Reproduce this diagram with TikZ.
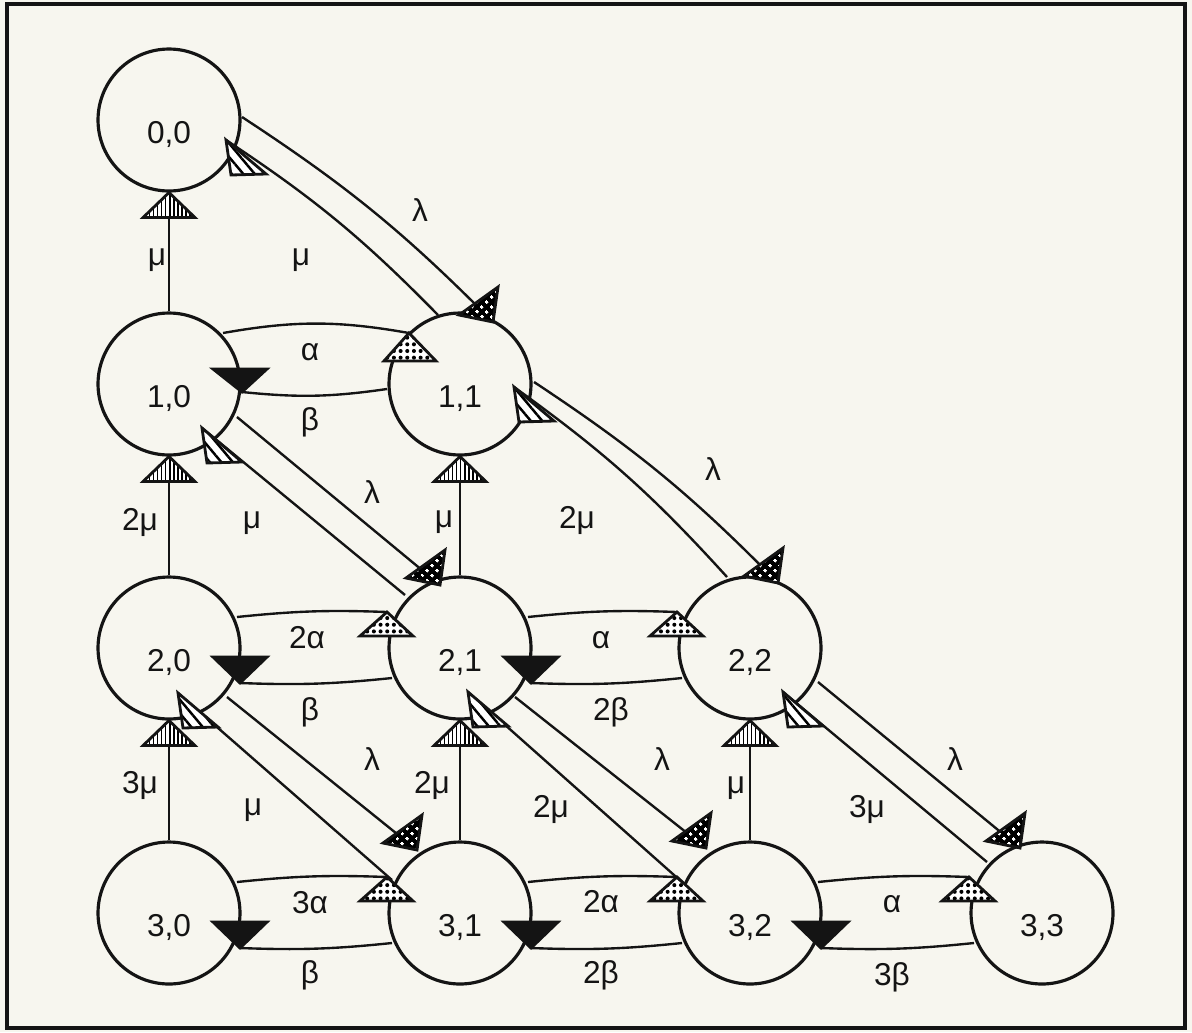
\documentclass[tikz,border=0pt]{standalone}
\usepackage{fontspec}
\setmainfont{Liberation Sans}
\usetikzlibrary{calc, patterns.meta}
\definecolor{paper}{HTML}{F7F6EF}
\definecolor{ink}{HTML}{141414}
\tikzset{
  every picture/.style={line width=1.3pt, color=ink},
  state/.style={circle, draw=ink, line width=1.8pt, minimum size=2.84cm, inner sep=0pt,
                font=\fontsize{18}{20}\selectfont, text height=0.94cm, text depth=0pt},
  rate/.style={font=\fontsize{18}{20}\selectfont, inner sep=0pt, anchor=base},
  link/.style={draw=ink, line width=1.35pt},
  head/.style={draw=ink, line width=1.6pt, preaction={fill=white}},
  headup/.style={head, pattern={Lines[angle=90, distance=2.3pt, line width=0.9pt]}},
  headback/.style={head, pattern={Lines[angle=-50, distance=5pt, line width=1.4pt]}},
  headfwd/.style={head, pattern={Hatch[angle=45, distance=4pt, line width=2.2pt]}},
  headvac/.style={head, pattern={Dots[distance=3.8pt, radius=1.15pt]}},
  headrep/.style={head, fill=ink},
}

\begin{document}
\begin{tikzpicture}[x=0.02cm, y=-0.02cm]
  \fill[paper] (0,0) rectangle (1192,1032);
  \useasboundingbox (0,0) rectangle (1192,1032);
  \draw[line width=1.8pt] (7,4) rectangle (1185,1028);
  % states i,j on a triangular grid
  \foreach \i/\y in {0/120, 1/384, 2/648, 3/913}
    \foreach \j/\x in {0/169, 1/460, 2/750, 3/1042} {
      \ifnum\j>\i\relax\else
        \node[state] (s\i\j) at (\x,\y) {\i,\j};
      \fi
    }
  % service straight up the columns
  \foreach \s/\t in {10/00, 20/10, 30/20, 21/11, 31/21, 32/22} {
    \draw[link] (s\s.north) -- (s\t.south);
    \draw[headup] (s\t.south) -- ++(-26,25) -- ++(52,0) -- cycle;
  }
  % alpha over the top, beta underneath
  \draw[link] ($(s10)+(54,-51)$) to[bend left=10] ($(s11)+(-51,-51)$);
  \draw[link] ($(s11)+(-73,5)$) to[bend left=7] ($(s10)+(73,8)$);
  \draw[headvac] ($(s11)+(-51,-51)$) -- ++(-25,28) -- ++(52,0) -- cycle;
  \draw[headrep] ($(s10)+(73,8)$) -- ++(-29,-23) -- ++(54,0) -- cycle;
  \foreach \p/\q in {20/21, 21/22, 30/31, 31/32, 32/33} {
    \draw[link] ($(s\p)+(68,-31)$) to[bend left=4] ($(s\q)+(-73,-36)$);
    \draw[link] ($(s\q)+(-68,30)$) to[bend left=4] ($(s\p)+(71,35)$);
    \draw[headvac] ($(s\q)+(-73,-36)$) -- ++(-27,24) -- ++(53,0) -- cycle;
    \draw[headrep] ($(s\p)+(71,35)$) -- ++(-27,-26) -- ++(54,0) -- cycle;
  }
  % lambda down the diagonals, mu back up
  \foreach \p/\q/\la/\lb/\ma/\mb/\bd in {
      00/11/{73,-3}/{33,-62}/{-22,-69}/{57,20}/6,
      10/21/{68,33}/{-20,-63}/{-55,-53}/{33,44}/0,
      11/22/{74,-2}/{28,-65}/{-23,-71}/{54,3}/6,
      20/31/{58,49}/{-43,-63}/{-68,-33}/{9,45}/0,
      21/32/{55,49}/{-44,-65}/{-67,-30}/{8,44}/0,
      22/33/{68,34}/{-22,-65}/{-55,-51}/{33,44}/0} {
    \draw[link] ($(s\p)+(\la)$) to[bend left=\bd] ($(s\q)+(\lb)$);
    \draw[link] ($(s\q)+(\ma)$) to[bend right=\bd] ($(s\p)+(\mb)$);
    \draw[headfwd] ($(s\q)+(\lb)$) -- ++(5,-35) -- ++(-39,28) -- cycle;
    \draw[headback] ($(s\p)+(\mb)$) -- ++(5,35) -- ++(35,-1) -- cycle;
  }
  % rates
  \foreach \n/\x/\y/\r in {va/157/265/μ, vb/140/530/2μ, vc/140/793/3μ,
                           vd/444/527/μ, ve/432/793/2μ, vf/736/793/μ,
                           la/420/221/λ, lb/372/503/λ, lc/713/480/λ,
                           ld/372/770/λ, le/662/770/λ, lf/955/770/λ,
                           ma/301/265/μ, mb/252/528/μ, mc/577/528/2μ,
                           md/253/815/μ, me/551/817/2μ, mf/867/817/3μ,
                           aa/310/360/α, ab/307/648/2α, ac/601/648/α,
                           ad/310/913/3α, ae/601/912/2α, af/892/912/α,
                           ba/310/430/β, bb/310/720/β, bc/611/720/2β,
                           bd/310/983/β, be/601/983/2β, bf/892/985/3β}
    \node[rate] (\n) at (\x,\y) {\r};
\end{tikzpicture}
\end{document}
